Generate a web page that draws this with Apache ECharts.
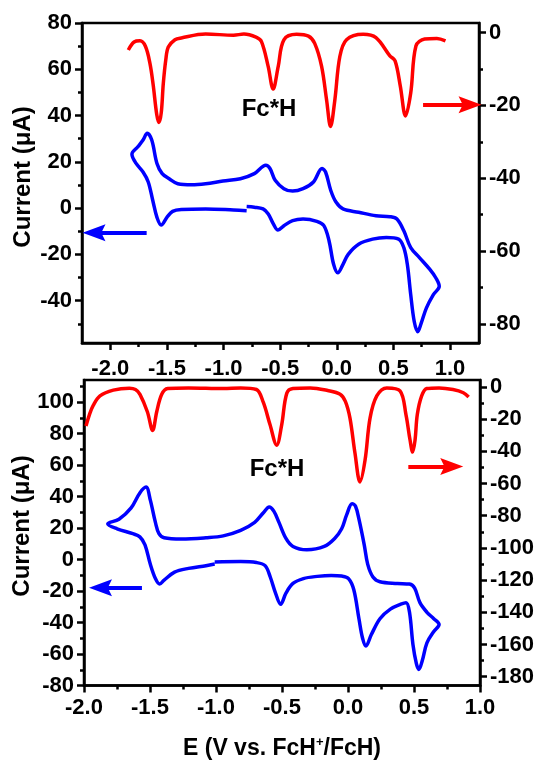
<!DOCTYPE html>
<html>
<head>
<meta charset="utf-8">
<script src="https://cdn.jsdelivr.net/npm/echarts@6/dist/echarts.min.js"></script>
<style>
html, body { margin: 0; padding: 0; background: #fff; }
#chart { width: 542px; height: 761px; }
</style>
</head>
<body>
<div id="chart"></div>
<script>
var FONT = "'Liberation Sans', Arial, sans-serif";

// ---- top panel: DPV (right axis) ----
var topDpvE = [-1.841,-1.790,-1.738,-1.690,-1.650,-1.621,-1.590,-1.570,-1.550,-1.532,-1.510,-1.488,-1.429,-1.373,-1.158,-0.912,-0.820,-0.713,-0.665,-0.606,-0.562,-0.517,-0.467,-0.355,-0.250,-0.195,-0.134,-0.090,-0.055,-0.017,0.027,0.086,0.233,0.346,0.469,0.515,0.561,0.607,0.653,0.699,0.776,0.884,0.960];
var topDpvI = [-4.8,-2.6,-2.3,-3.8,-8.5,-14.5,-22.5,-24.7,-22.0,-14.0,-7.5,-4.0,-2.0,-1.5,-0.45,-0.73,-0.45,-1.3,-2.5,-9.3,-15.5,-9.3,-2.0,-0.5,-1.0,-3.0,-9.3,-18.5,-25.8,-18.5,-6.6,-2.0,-0.5,-1.4,-6.4,-7.8,-14.7,-22.9,-16.6,-3.7,-1.8,-1.65,-2.3];

// ---- top panel: CV (left axis) ----
var topCvE = [-0.796,-0.912,-1.158,-1.373,-1.450,-1.496,-1.551,-1.588,-1.625,-1.665,-1.711,-1.772,
  -1.809,-1.757,-1.711,-1.674,-1.634,-1.588,-1.542,-1.480,-1.404,-1.281,-1.158,-1.005,-0.851,-0.728,-0.627,-0.590,-0.544,-0.467,-0.390,-0.298,
  -0.206,-0.130,-0.099,-0.053,-0.007,0.055,0.193,0.346,0.469,0.531,0.592,0.653,0.730,0.822,0.874,0.905,
  0.853,0.791,0.745,0.715,0.684,0.653,0.623,0.592,0.546,0.438,0.316,0.193,0.101,0.055,0.009,-0.028,-0.068,-0.114,-0.176,-0.298,
  -0.390,-0.467,-0.519,-0.559,-0.605,-0.651,-0.728,-0.796];
var topCvI = [-1.1,-0.8,-0.35,-0.6,-1.4,-3.7,-7.3,-4.0,3.3,11.3,15.6,19.3,
  23.3,26.5,29.4,32.35,29.4,19.3,14.9,12.7,10.55,10.1,10.55,11.7,12.7,14.9,18.5,17.1,12.0,8.4,7.35,8.4,
  11.3,17.1,15.6,7.6,2.6,-0.35,-1.8,-3.3,-3.7,-4.7,-9.8,-17.1,-21.4,-26.5,-30.1,-33.8,
  -37.4,-43.2,-49.8,-53.4,-49.0,-37.4,-24.3,-17.1,-13.4,-12.7,-13.4,-15.6,-19.97,-24.3,-27.96,-24.3,-14.2,-7.6,-5.7,-4.7,
  -5.4,-7.6,-9.5,-6.9,-2.5,-0.35,0.4,0.7];

// ---- bottom panel: DPV (right axis) ----
var botDpvE = [-1.985,-1.960,-1.930,-1.879,-1.778,-1.656,-1.610,-1.576,-1.520,-1.480,-1.449,-1.411,-1.366,-1.208,-0.945,-0.813,-0.694,-0.642,-0.591,-0.540,-0.502,-0.464,-0.417,-0.286,-0.154,-0.060,-0.020,0.015,0.053,0.091,0.129,0.167,0.218,0.294,0.394,0.439,0.470,0.490,0.508,0.525,0.558,0.597,0.690,0.795,0.874,0.914];
var botDpvI = [-24.3,-17.5,-11.5,-5.6,-2.0,-0.8,-1.6,-4.6,-15.4,-27.0,-15.4,-4.6,-1.0,-0.6,-1.0,-0.6,-1.6,-9.5,-23.4,-36.2,-23.4,-4.0,-1.0,-0.6,-2.2,-4.5,-9.0,-19.4,-41.2,-59.0,-45.6,-19.4,-5.6,-0.6,-2.4,-17.2,-33.0,-40.5,-33.0,-17.2,-5.6,-1.0,-0.6,-1.6,-3.6,-6.2];

// ---- bottom panel: CV (left axis) ----
var botCvE = [-1.010,-0.813,-0.694,-0.628,-0.589,-0.549,-0.510,-0.470,-0.417,-0.338,-0.233,-0.127,-0.048,0.004,0.044,0.083,0.110,0.136,0.176,0.242,
  0.321,0.400,0.440,0.466,0.492,0.518,0.537,0.563,0.598,0.650,0.690,0.650,0.598,0.545,0.505,0.466,0.374,0.242,0.189,0.149,
  0.123,0.083,0.057,0.031,-0.009,-0.048,-0.101,-0.180,-0.312,-0.417,-0.470,-0.523,-0.562,-0.597,-0.641,-0.707,-0.813,-0.945,-1.076,-1.261,
  -1.393,-1.432,-1.459,-1.498,-1.530,-1.577,-1.643,-1.735,-1.820,-1.749,-1.630,-1.577,-1.538,-1.498,-1.459,-1.427,-1.393,-1.314,-1.208,-1.076,-1.010];
var botCvI = [-1.5,-1.3,-1.9,-3.9,-11.1,-21.3,-28.4,-21.3,-15.2,-12.1,-10.7,-10.1,-10.5,-12.1,-19.2,-37.6,-49.8,-54.9,-47.8,-37.6,
  -31.5,-28.4,-27.4,-33.5,-53.9,-66.1,-69.8,-64.1,-52.9,-45.7,-41.3,-37.6,-33.5,-27.4,-18.2,-15.6,-15.2,-14.1,-11.1,-2.9,
  9.3,25.6,33.8,35.4,28.7,19.5,13.4,8.3,6.2,8.3,13.4,23.6,30.7,33.4,29.7,23.6,18.5,15.0,13.8,13.0,
  13.8,16.4,23.6,37.9,46.0,42.3,32.8,25.6,22.6,19.5,16.4,14.4,9.3,-2.9,-12.1,-15.6,-13.1,-8.0,-5.6,-3.9,-2.9];

// ---- tick labels ----
var xTicks = [-2.0, -1.5, -1.0, -0.5, 0.0, 0.5, 1.0];
var topLeftTicks = [-40, -20, 0, 20, 40, 60, 80];
var topRightTicks = [-80, -60, -40, -20, 0];
var botLeftTicks = [-80, -60, -40, -20, 0, 20, 40, 60, 80, 100];
var botRightTicks = [-180, -160, -140, -120, -100, -80, -60, -40, -20, 0];

function zip(xs, ys) {
	var out = [];
	for (var i = 0; i < xs.length; i++) out.push([xs[i], ys[i]]);
	return out;
}
function minorTicks(ticks, lo, hi) {
	var half = (ticks[1] - ticks[0]) / 2, pad = (hi - lo) * 0.01, out = [];
	for (var v = ticks[0] - half; v > lo + pad; v -= 2 * half) out.push(+v.toFixed(4));
	for (var i = 0; i < ticks.length; i++) {
		var m = ticks[i] + half;
		if (m < hi - pad) out.push(+m.toFixed(4));
	}
	return out;
}
function majorAxis(grid, pos, lo, hi, ticks, margin, fmt) {
	return {
		type: 'value', gridIndex: grid, position: pos, min: lo, max: hi,
		axisLine: { show: true, onZero: false, lineStyle: { color: '#000', width: 2.5 } },
		axisTick: { show: true, inside: false, length: 7, customValues: ticks, lineStyle: { color: '#000', width: 2.5 } },
		axisLabel: { show: true, customValues: ticks, margin: margin, color: '#000', fontFamily: FONT, fontWeight: 'bold', fontSize: 22, formatter: fmt },
		splitLine: { show: false }
	};
}
function minorAxis(grid, pos, lo, hi, ticks) {
	return {
		type: 'value', gridIndex: grid, position: pos, min: lo, max: hi,
		axisLine: { show: false, onZero: false },
		axisTick: { show: true, inside: false, length: 4, customValues: ticks, lineStyle: { color: '#000', width: 2.5 } },
		axisLabel: { show: false },
		splitLine: { show: false }
	};
}
// annotation arrow: plain line from x0 to the tip at x1
var ARROW_HEAD = 'path://M0,0L8,22L0,18L-8,22Z';
function arrowLine(x0, x1, y, color) {
	return {
		silent: true, symbol: ['none', ARROW_HEAD], symbolSize: 24,
		label: { show: false },
		itemStyle: { color: color },
		lineStyle: { color: color, width: 4, type: 'solid' },
		data: [[{ coord: [x0, y] }, { coord: [x1, y], symbol: ARROW_HEAD, symbolSize: [17, 23] }]]
	};
}
function fmtX(v) { return v.toFixed(1); }
function fmtY(v) { return String(v); }

var TOP_X = [-2.25, 1.256], TOP_L = [-58.3, 80], TOP_R = [-85.2, 2.6];
var BOT_X = [-2, 1], BOT_L = [-80, 114], BOT_R = [-185.5, 4.3];

var botXAxis = majorAxis(1, 'bottom', BOT_X[0], BOT_X[1], xTicks, 11, fmtX);
botXAxis.name = '{a|E (V vs. FcH}{s|+}{a|/FcH)}';
botXAxis.nameLocation = 'middle';
botXAxis.nameGap = 50;
botXAxis.nameTextStyle = {
	rich: {
		a: { fontFamily: FONT, fontWeight: 'bold', fontSize: 23, color: '#000', lineHeight: 26 },
		s: { fontFamily: FONT, fontWeight: 'bold', fontSize: 13, color: '#000', verticalAlign: 'top', lineHeight: 26 }
	}
};

var option = {
	animation: false,
	backgroundColor: '#fff',
	grid: [
		{ left: 82, top: 23, width: 397, height: 320, show: true, borderColor: '#000', borderWidth: 2.5 },
		{ left: 84, top: 380, width: 396, height: 320, show: true, borderColor: '#000', borderWidth: 2.5 }
	],
	xAxis: [
		majorAxis(0, 'bottom', TOP_X[0], TOP_X[1], xTicks, 15, fmtX),
		minorAxis(0, 'bottom', TOP_X[0], TOP_X[1], minorTicks(xTicks, TOP_X[0], TOP_X[1])),
		botXAxis,
		minorAxis(1, 'bottom', BOT_X[0], BOT_X[1], minorTicks(xTicks, BOT_X[0], BOT_X[1]))
	],
	yAxis: [
		majorAxis(0, 'left', TOP_L[0], TOP_L[1], topLeftTicks, 10, fmtY),
		minorAxis(0, 'left', TOP_L[0], TOP_L[1], minorTicks(topLeftTicks, TOP_L[0], TOP_L[1])),
		majorAxis(0, 'right', TOP_R[0], TOP_R[1], topRightTicks, 10, fmtY),
		minorAxis(0, 'right', TOP_R[0], TOP_R[1], minorTicks(topRightTicks, TOP_R[0], TOP_R[1])),
		majorAxis(1, 'left', BOT_L[0], BOT_L[1], botLeftTicks, 10, fmtY),
		minorAxis(1, 'left', BOT_L[0], BOT_L[1], minorTicks(botLeftTicks, BOT_L[0], BOT_L[1])),
		majorAxis(1, 'right', BOT_R[0], BOT_R[1], botRightTicks, 10, fmtY),
		minorAxis(1, 'right', BOT_R[0], BOT_R[1], minorTicks(botRightTicks, BOT_R[0], BOT_R[1]))
	],
	series: [
		{
			name: 'top DPV', type: 'line', xAxisIndex: 0, yAxisIndex: 2,
			data: zip(topDpvE, topDpvI), symbol: 'none', smooth: 0.35,
			lineStyle: { color: '#ff0000', width: 3.5 },
			markLine: arrowLine(0.762, 1.177, -19.8, '#ff0000')
		},
		{
			name: 'top CV', type: 'line', xAxisIndex: 0, yAxisIndex: 0,
			data: zip(topCvE, topCvI), symbol: 'none', smooth: 0.35,
			lineStyle: { color: '#0000ff', width: 3.5 },
			markLine: arrowLine(-1.679, -2.144, -10.7, '#0000ff')
		},
		{
			name: 'bottom DPV', type: 'line', xAxisIndex: 2, yAxisIndex: 6,
			data: zip(botDpvE, botDpvI), symbol: 'none', smooth: 0.35,
			lineStyle: { color: '#ff0000', width: 3.5 },
			markLine: arrowLine(0.457, 0.786, -49.5, '#ff0000')
		},
		{
			name: 'bottom CV', type: 'line', xAxisIndex: 2, yAxisIndex: 4,
			data: zip(botCvE, botCvI), symbol: 'none', smooth: 0.35,
			lineStyle: { color: '#0000ff', width: 3.5 },
			markLine: arrowLine(-1.561, -1.875, -18.0, '#0000ff')
		}
	],
	graphic: [
		{ type: 'text', x: 269, y: 109, style: { text: 'Fc*H', font: 'bold 24px ' + FONT, fill: '#000', textAlign: 'center', textVerticalAlign: 'middle' } },
		{ type: 'text', x: 277, y: 469, style: { text: 'Fc*H', font: 'bold 24px ' + FONT, fill: '#000', textAlign: 'center', textVerticalAlign: 'middle' } },
		{ type: 'text', x: 23, y: 177, rotation: Math.PI / 2, style: { text: 'Current (\u03bcA)', font: 'bold 24px ' + FONT, fill: '#000', textAlign: 'center', textVerticalAlign: 'middle' } },
		{ type: 'text', x: 22, y: 526, rotation: Math.PI / 2, style: { text: 'Current (\u03bcA)', font: 'bold 24px ' + FONT, fill: '#000', textAlign: 'center', textVerticalAlign: 'middle' } }
	]
};

var chart = echarts.init(document.getElementById('chart'));
chart.setOption(option);
</script>
</body>
</html>
